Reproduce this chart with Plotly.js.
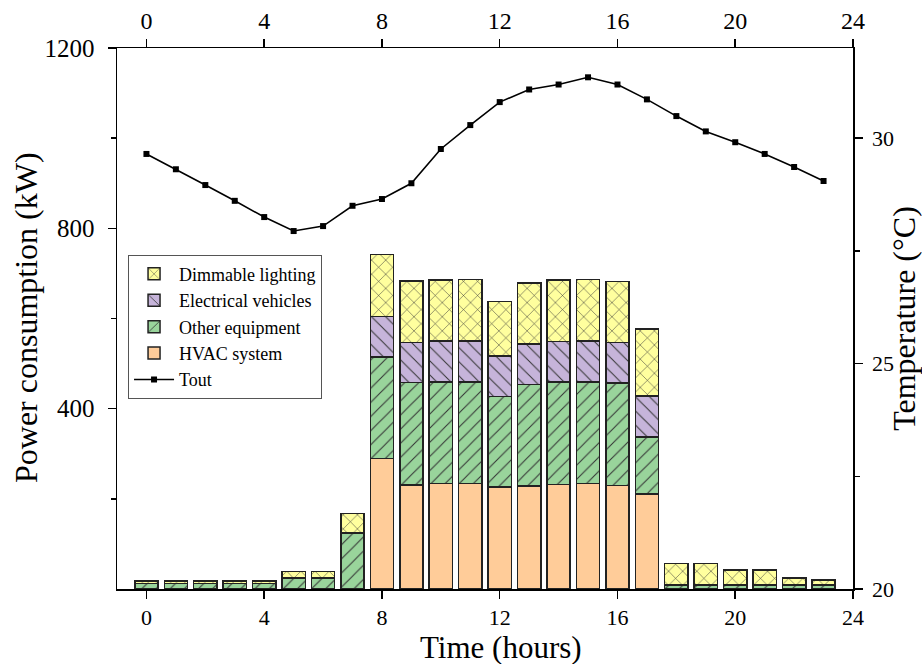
<!DOCTYPE html>
<html>
<head>
<meta charset="utf-8">
<script src="https://cdn.plot.ly/plotly-3.0.1.min.js"></script>
<style>html,body{margin:0;padding:0;background:#fff;}#chart{width:922px;height:664px;}</style>
</head>
<body>
<div id="chart"></div>
<script>
const hours = [0,1,2,3,4,5,6,7,8,9,10,11,12,13,14,15,16,17,18,19,20,21,22,23];
const hvac     = [0,0,0,0,0,0,0,0,290,231,234,234,226,228,232,234,230,211,0,0,0,0,0,0];
const otherEq  = [12,12,12,12,12,24,24,124,225,227,225,225,201,226,227,225,227,126,9,9,9,9,9,9];
const ev       = [0,0,0,0,0,0,0,0,90,89,91,91,90,90,90,91,90,91,0,0,0,0,0,0];
const lighting = [6,6,6,6,6,15,15,44,137,136,135,136,121,135,136,136,135,149,48,48,33,33,15,11];
const tout     = [29.65,29.31,28.96,28.61,28.25,27.94,28.05,28.50,28.65,29.00,29.76,30.29,30.80,31.08,31.19,31.35,31.19,30.86,30.49,30.15,29.91,29.65,29.36,29.05];
const xTicks = [0,4,8,12,16,20,24];

const font = "Liberation Serif, Times New Roman, serif";
const outline = {color:'#222', width:1.5};
function bar(name, y, color, shape, rank){
  const m = {color: color, line: outline};
  if (shape) m.pattern = {shape: shape, fgcolor:'#333', bgcolor: color, size: 10, solidity: 0.1, fillmode:'replace'};
  return {type:'bar', name:name, x:hours, y:y, marker:m, width:0.79, legendrank:rank, xaxis:'x', yaxis:'y'};
}
const data = [
  bar('HVAC system', hvac, '#FFCC99', '', 4),
  bar('Other equipment', otherEq, '#99D49B', '/', 3),
  bar('Electrical vehicles', ev, '#C6B4DA', '\\', 2),
  bar('Dimmable lighting', lighting, '#FFFF9E', 'x', 1),
  {type:'scatter', mode:'lines+markers', name:'Tout', x:hours, y:tout, xaxis:'x2', yaxis:'y2',
   line:{color:'#000', width:1.6}, marker:{symbol:'square', size:6, color:'#000'}, legendrank:5}
];
function ax(size, extra){
  return Object.assign({showline:true, linecolor:'#000', linewidth:1.5, ticks:'outside', ticklen:8, tickwidth:1.5, tickcolor:'#000',
    showgrid:false, zeroline:false, tickfont:{family:font, size:size, color:'#000'}}, extra);
}
const layout = {
  width:922, height:664,
  margin:{l:117, r:69, t:48, b:75},
  paper_bgcolor:'#fff', plot_bgcolor:'#fff',
  barmode:'stack',
  font:{family:font, color:'#000'},
  showlegend:true,
  legend:{x:0.015, y:0.618, xanchor:'left', yanchor:'top', bgcolor:'#fff', bordercolor:'#555', borderwidth:1,
    traceorder:'normal', font:{family:font, size:18, color:'#000'}, tracegroupgap:0, itemwidth:40},
  xaxis:ax(22, {range:[-1,24], tickmode:'array', tickvals:xTicks}),
  xaxis2:ax(24, {range:[-1,24], tickmode:'array', tickvals:xTicks, overlaying:'x', side:'top', anchor:'y2'}),
  yaxis:ax(25, {range:[0,1200], tickmode:'array', tickvals:[400,800,1200], ticklabelstandoff:8,
    minor:{tickvals:[200,600,1000], ticks:'outside', ticklen:5, tickwidth:1.5, tickcolor:'#000'}}),
  yaxis2:ax(22, {range:[20,32], tickmode:'array', tickvals:[20,25,30], overlaying:'y', side:'right', anchor:'x2', ticklabelstandoff:5,
    minor:{tickvals:[22.5,27.5], ticks:'outside', ticklen:5, tickwidth:1.5, tickcolor:'#000'},
    title:{text:'Temperature (°C)', font:{family:font, size:32, color:'#000'}, standoff:1}}),
  annotations:[
    {text:'Time (hours)', xref:'paper', yref:'paper', x:0.522, y:-0.109, xanchor:'center', yanchor:'middle',
     showarrow:false, font:{family:font, size:31, color:'#000'}},
    {text:'Power consumption (kW)', xref:'paper', yref:'paper', x:-0.1236, y:0.501, xanchor:'center', yanchor:'middle',
     textangle:-90, showarrow:false, font:{family:font, size:32, color:'#000'}}
  ]
};
Plotly.newPlot('chart', data, layout, {displayModeBar:false, staticPlot:true});
</script>
</body>
</html>
